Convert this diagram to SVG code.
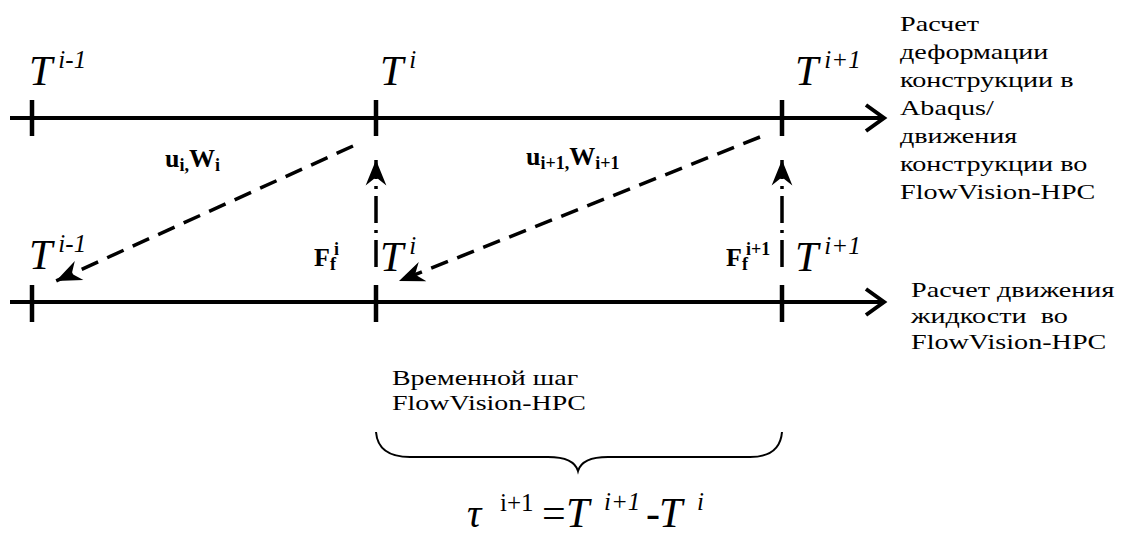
<svg xmlns="http://www.w3.org/2000/svg" width="1126" height="536" viewBox="0 0 1126 536">
<defs>
<style>
.axis{stroke:#000;stroke-width:4;fill:none}
.tick{stroke:#000;stroke-width:4.5;fill:none}
.dash{stroke:#000;stroke-width:3.5;fill:none;stroke-dasharray:18 10}
.dashdot{stroke:#000;stroke-width:3.5;fill:none;stroke-dasharray:27 7 3 7}
text{font-family:'Liberation Serif','Times New Roman',serif;fill:#000}
.T{font-style:italic;font-size:42px}
.sup{font-size:25px}
.lbl{font-weight:bold;font-size:26px}
.sub{font-size:18px}
.txt{font-size:22px}
.brace{stroke:#000;stroke-width:2;fill:none}
</style>
<marker id="open" markerWidth="30" markerHeight="30" refX="0" refY="0" viewBox="-22 -15 26 30" orient="auto" markerUnits="userSpaceOnUse">
<path d="M-18,-13 L0,0 L-18,13" stroke="#000" stroke-width="4" fill="none"/>
</marker>
<marker id="notch" markerWidth="30" markerHeight="30" refX="0" refY="0" viewBox="-24 -12 26 24" orient="auto" markerUnits="userSpaceOnUse">
<path d="M0,0 L-22,-9 L-15,0 L-22,9 Z" fill="#000"/>
</marker>
</defs>
<rect width="1126" height="536" fill="#fff"/>

<g id="connectors">
<line class="axis" x1="10" y1="118" x2="884" y2="118" marker-end="url(#open)"/>
<line class="axis" x1="10" y1="302" x2="884" y2="302" marker-end="url(#open)"/>
<line class="tick" x1="32" y1="100" x2="32" y2="136"/>
<line class="tick" x1="376" y1="100" x2="376" y2="136"/>
<line class="tick" x1="782" y1="100" x2="782" y2="136"/>
<line class="tick" x1="32" y1="285" x2="32" y2="322"/>
<line class="tick" x1="376" y1="285" x2="376" y2="322"/>
<line class="tick" x1="782" y1="285" x2="782" y2="322"/>
<line class="dash" x1="353" y1="146" x2="56" y2="281" marker-end="url(#notch)"/>
<line class="dash" x1="760" y1="137" x2="399" y2="281" marker-end="url(#notch)"/>
<line class="dashdot" x1="376" y1="267" x2="376" y2="160" marker-end="url(#notch)"/>
<line class="dashdot" x1="782" y1="267" x2="782" y2="160" marker-end="url(#notch)"/>
</g>

<g id="top-timeline-labels">
<text class="T" font-family="Liberation Serif, serif" x="29" y="85">T<tspan class="sup" dx="6" dy="-17">i-1</tspan></text>
<text class="T" font-family="Liberation Serif, serif" x="380" y="85">T<tspan class="sup" dx="6" dy="-17">i</tspan></text>
<text class="T" font-family="Liberation Serif, serif" x="795" y="85">T<tspan class="sup" dx="6" dy="-17">i+1</tspan></text>
</g>

<g id="bottom-timeline-labels">
<text class="T" font-family="Liberation Serif, serif" x="29" y="269">T<tspan class="sup" dx="6" dy="-17">i-1</tspan></text>
<text class="T" font-family="Liberation Serif, serif" x="380" y="271">T<tspan class="sup" dx="6" dy="-17">i</tspan></text>
<text class="T" font-family="Liberation Serif, serif" x="795" y="271">T<tspan class="sup" dx="6" dy="-17">i+1</tspan></text>
</g>

<g id="transfer-labels">
<text class="lbl" font-family="Liberation Serif, serif" x="165" y="167">u<tspan class="sub" dy="4">i,</tspan><tspan dy="-4">W</tspan><tspan class="sub" dy="4">i</tspan></text>
<text class="lbl" font-family="Liberation Serif, serif" x="526" y="165">u<tspan class="sub" dy="4">i+1,</tspan><tspan dy="-4">W</tspan><tspan class="sub" dy="4">i+1</tspan></text>
<text class="lbl" font-family="Liberation Serif, serif" x="314" y="266" font-size="23">F<tspan class="sub" dy="4">f</tspan><tspan class="sub" dy="-15" dx="-2">i</tspan></text>
<text class="lbl" font-family="Liberation Serif, serif" x="726" y="266" font-size="23">F<tspan class="sub" dy="4">f</tspan><tspan class="sub" dy="-15" dx="-2">i+1</tspan></text>
</g>

<g id="structure-label">
<text class="txt" font-family="Liberation Serif, serif" transform="translate(900,0) scale(1.28,1)">
<tspan x="0" y="31">Расчет</tspan>
<tspan x="0" y="59">деформации</tspan>
<tspan x="0" y="87">конструкции в</tspan>
<tspan x="0" y="115">Abaqus/</tspan>
<tspan x="0" y="143">движения</tspan>
<tspan x="0" y="171">конструкции во</tspan>
<tspan x="0" y="199">FlowVision-HPC</tspan>
</text>
</g>

<g id="fluid-label">
<text class="txt" font-family="Liberation Serif, serif" transform="translate(911,0) scale(1.28,1)">
<tspan x="0" y="297">Расчет движения</tspan>
<tspan x="0" y="323" xml:space="preserve">жидкости  во</tspan>
<tspan x="0" y="349">FlowVision-HPC</tspan>
</text>
</g>

<g id="timestep">
<text class="txt" font-family="Liberation Serif, serif" font-size="21" transform="translate(392,0) scale(1.27,1)">
<tspan x="0" y="385">Временной шаг</tspan>
<tspan x="0" y="410">FlowVision-HPC</tspan>
</text>
<path class="brace" d="M376,432 Q378,457 410,457 L548,457 Q574,457 578,471 Q582,457 608,457 L750,457 Q780,457 782,432"/>
</g>

<g id="formula">
<text class="T" font-family="Liberation Serif, serif" y="527"><tspan x="467" font-size="40">τ</tspan><tspan class="sup" font-style="normal" x="500" y="511">i+1</tspan><tspan font-style="normal" x="542" y="527">=</tspan><tspan x="566">T</tspan><tspan class="sup" x="604" y="510">i+1</tspan><tspan font-style="normal" x="646" y="527">-</tspan><tspan x="659">T</tspan><tspan class="sup" x="697" y="510">i</tspan></text>
</g>
</svg>
